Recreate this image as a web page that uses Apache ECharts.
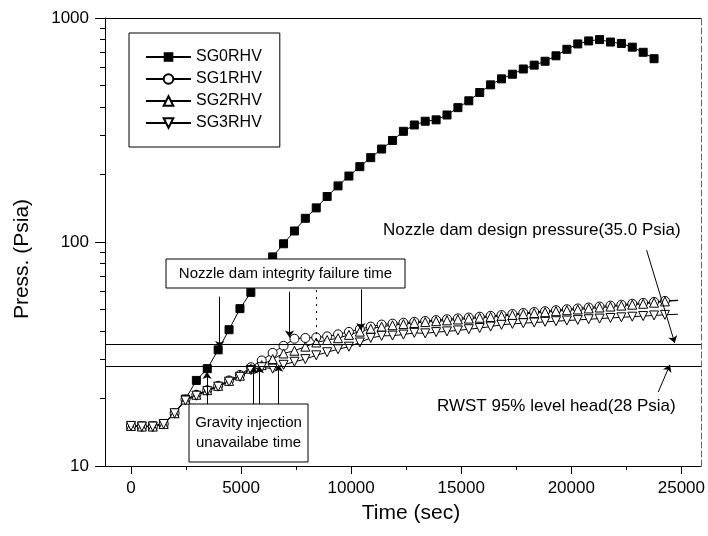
<!DOCTYPE html>
<html><head><meta charset="utf-8">
<script src="https://cdn.jsdelivr.net/npm/echarts@6/dist/echarts.min.js"></script>
<style>html,body{margin:0;padding:0;background:#fff}#c{width:708px;height:536px}</style>
</head><body><div id="c"></div>
<script>
// ---- data ----
const times = [0,495,990,1485,1980,2475,2970,3465,3960,4455,4950,5445,5940,6435,6930,7425,7920,8415,8910,9405,9900,10395,10890,11385,11880,12375,12870,13365,13860,14355,14850,15345,15840,16335,16830,17325,17820,18315,18810,19305,19800,20295,20790,21285,21780,22275,22770,23265,23760,24255];
const sg0 = [15.1,15.1,15.1,15.4,17.2,19.9,24.1,27.2,33.0,40.6,50.4,59.6,72,85.8,98.2,112,127.6,142,159.6,178,197,217,238,260,284,312,333,346,351,369,398,427,465,503,535,561,592,616,641,678,725,766,790,801,781,770,741,703,658];
const sg1 = [15.1,15.0,15.0,15.4,17.2,19.8,20.8,21.8,22.8,24.1,25.5,27.6,29.6,32.0,34.4,37.0,37.3,37.5,37.9,38.7,39.7,40.8,41.9,42.8,43.2,43.6,44.0,44.4,44.8,45.2,45.6,46.0,46.4,46.8,47.2,47.7,48.2,48.7,49.1,49.6,50.1,50.5,51.0,51.5,52.0,52.5,53.0,53.5,54.0,54.6];
const sg2 = [15.1,15.0,15.0,15.4,17.2,19.8,20.8,21.8,22.8,24.0,25.3,27.2,28.2,30.0,31.8,32.7,34.1,35.6,36.5,37.2,38.5,39.8,41.0,41.9,42.5,43.0,43.5,43.9,44.3,44.7,45.1,45.5,45.9,46.3,46.7,47.2,47.7,48.2,48.6,49.1,49.6,50.0,50.5,51.0,51.5,52.0,52.5,53.0,53.6,54.3];
const sg3 = [15.1,15.0,15.0,15.4,17.2,19.6,20.6,21.6,22.6,23.8,25.0,26.8,27.6,27.2,28.3,29.2,30.0,31.2,32.2,33.2,34.1,35.6,37.3,38.1,38.2,38.6,39.3,39.1,39.6,39.9,40.3,40.8,41.3,41.9,42.7,43.1,43.4,43.7,44.0,44.3,44.6,44.9,45.2,45.5,45.8,46.1,46.4,46.7,47.0,47.3];
const tailTime = 24850;
const tailValues = [55.0, 54.8, 47.6];
const xMajorTicks = [0,5000,10000,15000,20000,25000];
const xMinorTicks = [2500,7500,12500,17500,22500];
const yMajorTicks = [10,100,1000];
const yMinorTicks = [20,30,40,50,60,70,80,90,200,300,400,500,600,700,800,900];
const nozzleDesign = 35.0;
const rwstHead = 28;
const seriesNames = ['SG0RHV','SG1RHV','SG2RHV','SG3RHV'];

const FONT = "'Liberation Sans', Arial, sans-serif";
const chart = echarts.init(document.getElementById('c'));

function pairs(vals, withTail, tailV) {
  const d = vals.map((v, i) => [times[i], v]);
  if (withTail) d.push({ value: [tailTime, tailV], symbol: 'none' });
  return d;
}
function arrow(t1, v1, t2, v2) {
  return [{ coord: [t1, v1], symbol: 'none' }, { coord: [t2, v2], symbol: 'arrow', symbolSize: 7 }];
}
const XMIN = -1180, XMAX = 25890;
const blackLine = { color: '#000', width: 1 };
const plain = v => String(Math.round(v));

const option = {
  animation: false,
  backgroundColor: '#fff',
  grid: { left: 105, right: 5, top: 18, bottom: 70, show: false },
  legend: {
    orient: 'vertical', left: 129, top: 33,
    padding: [16, 18, 16, 16], itemWidth: 45, itemHeight: 12, itemGap: 6,
    borderColor: '#000', borderWidth: 1, backgroundColor: '#fff',
    textStyle: { fontSize: 16, color: '#000', fontFamily: FONT, lineHeight: 16 },
    data: seriesNames
  },
  xAxis: [
    { type: 'value', min: XMIN, max: XMAX, position: 'bottom',
      axisLine: { onZero: false, lineStyle: blackLine },
      axisTick: { customValues: xMajorTicks, length: 8, lineStyle: blackLine },
      axisLabel: { customValues: xMajorTicks, formatter: plain, color: '#000', fontSize: 17, margin: 14, fontFamily: FONT },
      splitLine: { show: false } },
    { type: 'value', min: XMIN, max: XMAX, position: 'bottom',
      axisLine: { show: false, onZero: false },
      axisTick: { customValues: xMinorTicks, length: 4, lineStyle: blackLine },
      axisLabel: { show: false }, splitLine: { show: false } },
    { type: 'value', min: XMIN, max: XMAX, position: 'top',
      axisLine: { onZero: false, lineStyle: blackLine }, axisTick: { show: false },
      axisLabel: { show: false }, splitLine: { show: false } }
  ],
  yAxis: [
    { type: 'log', logBase: 10, min: 10, max: 1000, position: 'left',
      axisLine: { onZero: false, lineStyle: blackLine },
      axisTick: { customValues: yMajorTicks, length: 10, lineStyle: blackLine },
      axisLabel: { customValues: yMajorTicks, formatter: plain, color: '#000', fontSize: 17, margin: 16, fontFamily: FONT },
      splitLine: { show: false } },
    { type: 'log', logBase: 10, min: 10, max: 1000, position: 'left',
      axisLine: { show: false, onZero: false },
      axisTick: { customValues: yMinorTicks, length: 5, lineStyle: blackLine },
      axisLabel: { show: false }, splitLine: { show: false } },
    { type: 'log', logBase: 10, min: 10, max: 1000, position: 'right',
      axisLine: { onZero: false, lineStyle: { color: '#666', width: 1, type: [6, 3] } },
      axisTick: { show: false }, axisLabel: { show: false }, splitLine: { show: false } }
  ],
  series: [
    { name: seriesNames[0], type: 'line', data: pairs(sg0, false),
      symbol: 'rect', symbolSize: 8,
      lineStyle: blackLine, itemStyle: { color: '#000', borderColor: '#000' },
      emphasis: { disabled: true },
      markLine: {
        silent: true, symbol: ['none', 'none'], label: { show: false },
        lineStyle: { color: '#000', width: 1, type: 'solid' },
        emphasis: { disabled: true },
        data: [
          { yAxis: nozzleDesign },
          { yAxis: rwstHead },
          [{ coord: [8400, 61], lineStyle: { type: [2, 5], color: '#000', width: 1 } }, { coord: [8400, 36] }],
          arrow(4030, 57, 4030, 33.6),
          arrow(7200, 60, 7200, 37.5),
          arrow(10440, 61.5, 10440, 40.5),
          arrow(3455, 18.9, 3455, 26.3),
          arrow(5570, 18.9, 5570, 27.8),
          arrow(5840, 18.9, 5840, 27.9),
          arrow(6710, 18.9, 6710, 28.3),
          arrow(23420, 92, 24700, 35.4),
          arrow(23950, 21.4, 24480, 28.3)
        ]
      } },
    { name: seriesNames[1], type: 'line', data: pairs(sg1, true, tailValues[0]),
      symbol: 'circle', symbolSize: 9,
      lineStyle: blackLine, itemStyle: { color: '#fff', borderColor: '#000', borderWidth: 1 },
      emphasis: { disabled: true } },
    { name: seriesNames[2], type: 'line', data: pairs(sg2, true, tailValues[1]),
      symbol: 'triangle', symbolSize: 9,
      lineStyle: blackLine, itemStyle: { color: '#fff', borderColor: '#000', borderWidth: 1 },
      emphasis: { disabled: true } },
    { name: seriesNames[3], type: 'line', data: pairs(sg3, true, tailValues[2]),
      symbol: 'triangle', symbolRotate: 180, symbolSize: 9,
      lineStyle: blackLine, itemStyle: { color: '#fff', borderColor: '#000', borderWidth: 1 },
      emphasis: { disabled: true } }
  ],
  graphic: [
    { type: 'rect', z: 100, shape: { x: 166, y: 259, width: 239, height: 29 },
      style: { fill: '#fff', stroke: '#000', lineWidth: 1 } },
    { type: 'text', z: 101, x: 285.5, y: 274,
      style: { text: 'Nozzle dam integrity failure time', fontSize: 15, fontFamily: FONT, fill: '#000', align: 'center', verticalAlign: 'middle' } },
    { type: 'rect', z: 100, shape: { x: 189, y: 404, width: 119, height: 58 },
      style: { fill: '#fff', stroke: '#000', lineWidth: 1 } },
    { type: 'text', z: 101, x: 248.5, y: 423,
      style: { text: 'Gravity injection', fontSize: 15, fontFamily: FONT, fill: '#000', align: 'center', verticalAlign: 'middle' } },
    { type: 'text', z: 101, x: 248.5, y: 443,
      style: { text: 'unavailabe time', fontSize: 15, fontFamily: FONT, fill: '#000', align: 'center', verticalAlign: 'middle' } },
    { type: 'text', z: 101, x: 383, y: 230,
      style: { text: 'Nozzle dam design pressure(35.0 Psia)', fontSize: 17, fontFamily: FONT, fill: '#000', align: 'left', verticalAlign: 'middle' } },
    { type: 'text', z: 101, x: 437, y: 406,
      style: { text: 'RWST 95% level head(28 Psia)', fontSize: 17, fontFamily: FONT, fill: '#000', align: 'left', verticalAlign: 'middle' } },
    { type: 'text', z: 101, x: 411, y: 513,
      style: { text: 'Time (sec)', fontSize: 21, fontFamily: FONT, fill: '#000', align: 'center', verticalAlign: 'middle' } },
    { type: 'text', z: 101, x: 22, y: 259, rotation: Math.PI / 2,
      style: { text: 'Press. (Psia)', fontSize: 21, fontFamily: FONT, fill: '#000', align: 'center', verticalAlign: 'middle' } }
  ]
};
chart.setOption(option);
</script>
</body></html>
